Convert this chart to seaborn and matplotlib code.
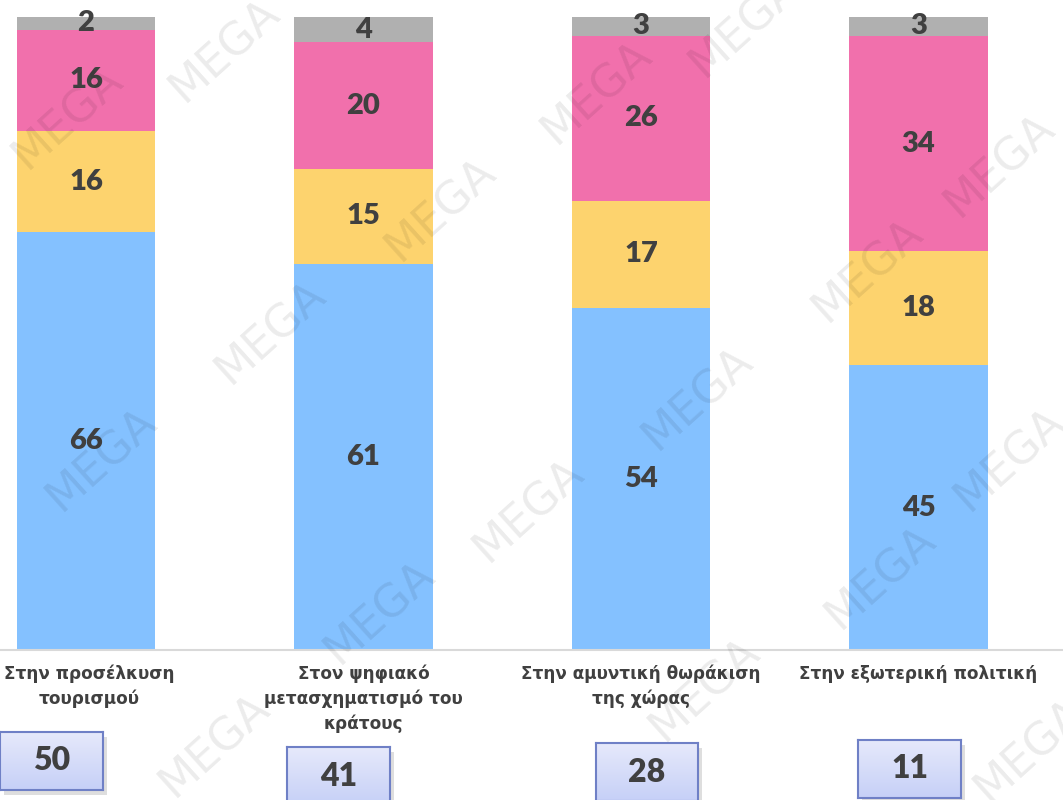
import numpy as np
import pandas as pd
import seaborn as sns
import matplotlib.pyplot as plt
from matplotlib.colors import LinearSegmentedColormap

categories = ["Στην προσέλκυση\nτουρισμού",
              "Στον ψηφιακό\nμετασχηματισμό του\nκράτους",
              "Στην αμυντική θωράκιση\nτης χώρας",
              "Στην εξωτερική πολιτική"]
blue = [66, 61, 54, 45]
yellow = [16, 15, 17, 18]
pink = [16, 20, 26, 34]
grey = [2, 4, 3, 3]
box_values = [50, 41, 28, 11]

colors = ["#84C1FF", "#FDD36E", "#F170AC", "#B0B0B0"]
txt = "#404040"

sns.set_style("white")
plt.rcParams['font.family'] = ['DejaVu Sans']

fig = plt.figure(figsize=(10.63, 8), dpi=100)
ax = fig.add_axes([0, 150 / 800, 1, 633 / 800])

# stacked bars: draw cumulative totals from the top segment down
series = [blue, yellow, pink, grey]
cum = np.cumsum(np.array(series), axis=0)
x = list(range(len(categories)))
for i in reversed(range(4)):
    df = pd.DataFrame({"x": x, "y": cum[i]})
    sns.barplot(data=df, x="x", y="y", color=colors[i], width=0.5,
                saturation=1, ax=ax, native_scale=True, linewidth=0)

# segment labels
for i in range(4):
    base = cum[i] - np.array(series[i])
    for j in x:
        ax.text(j, base[j] + series[i][j] / 2, str(series[i][j]),
                ha="center", va="center", fontsize=21, fontweight="heavy",
                color=txt, family="Lato")

ax.set_xlim(-86 / 277.5, (1063 - 86) / 277.5)
ax.set_ylim(0, 100)
ax.axis("off")
ax.axhline(0, color="#D9D9D9", lw=1.5, clip_on=False)

# category labels under bars
for j, lab in enumerate(categories):
    ax.text(j + (0.012 if j == 0 else 0), -2.3, lab, ha="center", va="top",
            fontsize=12.2, fontweight="bold", color=txt, linespacing=1.45,
            family="DejaVu Sans")

# watermark
marks = [(68, 117), (225, 50), (441, 209), (271, 332), (102, 459),
         (597, 92), (698, 398), (529, 510), (380, 612), (868, 270),
         (1000, 165), (881, 577), (705, 689), (215, 745), (1010, 459),
         (745, 25), (1030, 750)]
for mx, my in marks:
    fig.text(mx / 1063, 1 - my / 800, "MEGA", rotation=42, fontsize=32,
             color="#000000", alpha=0.08, ha="center", va="center",
             family="DejaVu Sans", zorder=10)

# numeric boxes with gradient
boxes = [(0, 732, 103, 58), (287, 747, 103, 58), (596, 743, 102, 58),
         (858, 740, 103, 58)]
grad = np.linspace(0, 1, 50).reshape(-1, 1)
cmap = LinearSegmentedColormap.from_list("g", ["#E6E9FB", "#C6D0F7"])
for (bx, by, bw, bh), v in zip(boxes, box_values):
    sh = fig.add_axes([(bx + 4) / 1063, 1 - (by + bh + 5) / 800, bw / 1063, bh / 800])
    sh.set_facecolor("#C8C8C8")
    sh.patch.set_alpha(0.6)
    sh.set_xticks([]); sh.set_yticks([])
    for s in sh.spines.values():
        s.set_visible(False)
    bax = fig.add_axes([bx / 1063, 1 - (by + bh) / 800, bw / 1063, bh / 800])
    bax.imshow(grad, aspect="auto", cmap=cmap, extent=[0, 1, 1, 0])
    bax.set_xlim(0, 1); bax.set_ylim(1, 0)
    bax.set_xticks([]); bax.set_yticks([])
    for s in bax.spines.values():
        s.set_color("#6F80C6"); s.set_linewidth(1.5)
    bax.text(0.5, 0.5, str(v), ha="center", va="center", fontsize=23,
             fontweight="heavy", color=txt, family="Lato")

fig.savefig("out.png", dpi=100)
